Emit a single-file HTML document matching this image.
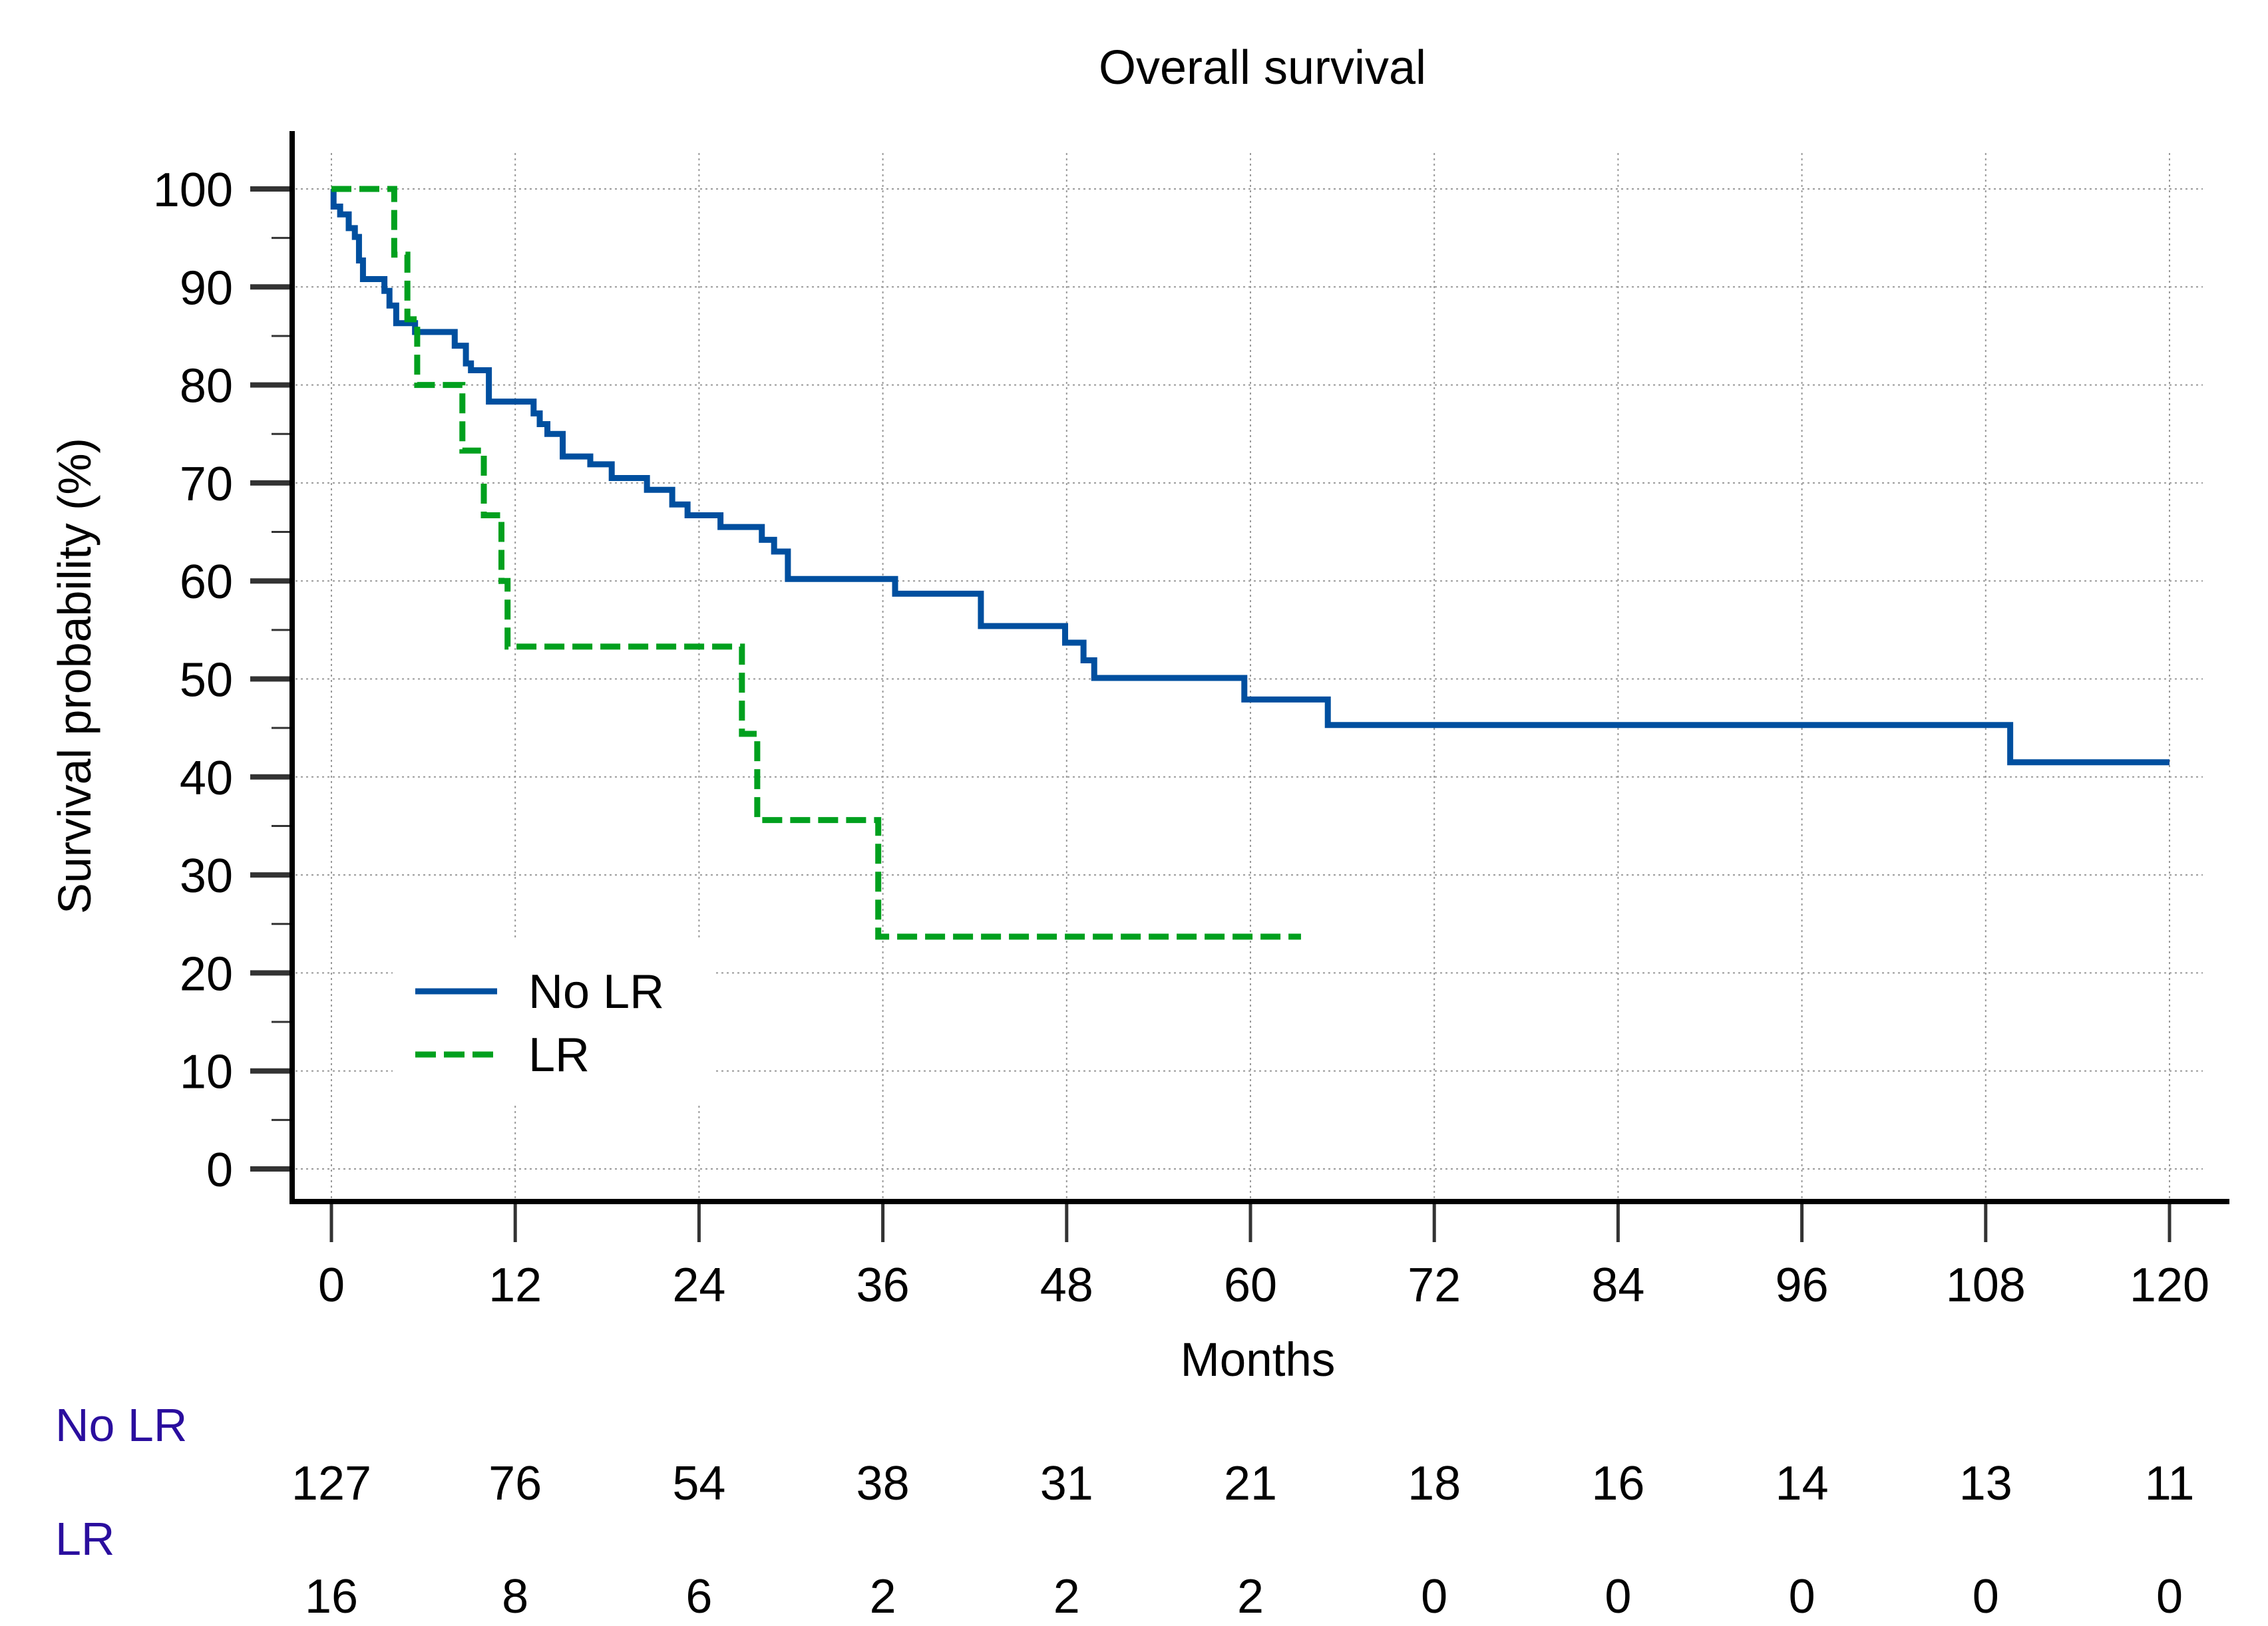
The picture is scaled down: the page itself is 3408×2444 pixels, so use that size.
<!DOCTYPE html>
<html><head><meta charset="utf-8"><style>
html,body{margin:0;padding:0;background:#fff;}
svg{display:block;font-family:"Liberation Sans",Arial,sans-serif;}
</style></head><body>
<svg id="chart" width="3408" height="2444" viewBox="0 0 3408 2444" xmlns="http://www.w3.org/2000/svg">
<rect width="3408" height="2444" fill="#fff"/>
<g id="grid"></g>
<g id="series"></g>
<g id="axes"></g>
<text x="1897" y="126" font-size="72" text-anchor="middle">Overall survival</text>
<text transform="translate(136,1016) rotate(-90)" font-size="70" text-anchor="middle">Survival probability (%)</text>
<text x="1890" y="2068" font-size="71" text-anchor="middle">Months</text>
<g>
<rect x="590" y="1414" width="483" height="244" fill="#fff"/>
<line x1="624" y1="1490" x2="747" y2="1490" stroke="#004f9f" stroke-width="9"/>
<text x="794" y="1505" font-size="72" dy="10">No LR</text>
<line x1="624" y1="1585" x2="747" y2="1585" stroke="#00a01e" stroke-width="9" stroke-dasharray="31,12"/>
<text x="794" y="1600" font-size="72" dy="10">LR</text>
</g>
<text x="83" y="2166" font-size="70" fill="#2a0e9e">No LR</text>
<text x="83" y="2337" font-size="70" fill="#2a0e9e">LR</text>
<g id="risk"></g>
</svg>
<script>
const xTicks=[0,12,24,36,48,60,72,84,96,108,120];
const yTicks=[0,10,20,30,40,50,60,70,80,90,100];
const riskNoLR=[127,76,54,38,31,21,18,16,14,13,11];
const riskLR=[16,8,6,2,2,2,0,0,0,0,0];
const noLRDropTimes=[0.14,0.57,1.13,1.53,1.8,2.06,3.46,3.79,4.23,5.46,8.05,8.78,9.11,10.28,13.2,13.6,14.1,15.1,16.9,18.3,20.6,22.25,23.25,25.4,28.1,28.9,29.8,36.8,42.4,47.9,49.1,49.8,59.6,65.05,109.6];
const noLRSurv=[98.2,97.4,96.0,95.1,92.7,90.8,89.6,88.1,86.3,85.4,84.0,82.2,81.5,78.3,77.1,76.0,75.0,72.7,71.9,70.5,69.3,67.8,66.7,65.5,64.2,63.0,60.2,58.7,55.4,53.7,51.9,50.1,47.9,45.3,41.5];
const noLREnd=120;
const lrDropTimes=[4.1,4.96,5.6,8.55,9.95,11.1,11.5,26.8,27.8,35.7];
const lrSurv=[93.3,86.7,80,73.3,66.7,60,53.3,44.4,35.6,23.7];
const lrEnd=63.3;
</script>
<script>
const NS='http://www.w3.org/2000/svg';
const X0=498,X1=3260,Y0=1757,Y1=284;
function xs(m){return X0+(X1-X0)*m/120;}
function ys(p){return Y0+(Y1-Y0)*p/100;}
function mk(tag,attrs,parent){const e=document.createElementNS(NS,tag);for(const k in attrs)e.setAttribute(k,attrs[k]);parent.appendChild(e);return e;}
const grid=document.getElementById('grid'),axes=document.getElementById('axes'),series=document.getElementById('series'),risk=document.getElementById('risk');
xTicks.forEach(t=>{
  const g=mk('line',{x1:xs(t),x2:xs(t),y1:230,y2:1803,stroke:'#999','stroke-width':2,'stroke-dasharray':'3,5'},grid);
  
  
  const tk=mk('line',{x1:xs(t),x2:xs(t),y1:1806,y2:1867,stroke:'#333','stroke-width':5},axes);
  
  
  const lb=mk('text',{x:xs(t),y:1956,'font-size':72,'text-anchor':'middle'},axes);lb.textContent=t;
  
  
});
yTicks.forEach(t=>{
  const g=mk('line',{x1:444,x2:3310,y1:ys(t),y2:ys(t),stroke:'#999','stroke-width':2,'stroke-dasharray':'3,5'},grid);
  
  
  const tk=mk('line',{x1:376,x2:439,y1:ys(t),y2:ys(t),stroke:'#333','stroke-width':8},axes);
  
  
  if(t<100){const mn=mk('line',{x1:408,x2:439,y1:ys(t+5),y2:ys(t+5),stroke:'#333','stroke-width':3},axes);
  
  }
  const lb=mk('text',{x:350,y:ys(t)+26,'font-size':72,'text-anchor':'end'},axes);lb.textContent=t;
  
  
});
const ya=mk('line',{x1:439,x2:439,y1:197,y2:1810,stroke:'#000','stroke-width':8},axes);


const xa=mk('line',{x1:435,x2:3350,y1:1806,y2:1806,stroke:'#000','stroke-width':8},axes);


function stepPath(drops,vals,end){let d='M'+xs(0)+','+ys(100);for(let i=0;i<drops.length;i++){d+=' H'+xs(drops[i])+' V'+ys(vals[i]);}d+=' H'+xs(end);return d;}
const p1=mk('path',{d:stepPath(noLRDropTimes,noLRSurv,noLREnd),fill:'none',stroke:'#004f9f','stroke-width':9},series);


const p2=mk('path',{d:stepPath(lrDropTimes,lrSurv,lrEnd),fill:'none',stroke:'#00a01e','stroke-width':9,'stroke-dasharray':'30,12'},series);


xTicks.forEach((t,i)=>{
  const a=mk('text',{x:xs(t),y:2254,'font-size':72,'text-anchor':'middle'},risk);a.textContent=riskNoLR[i];
  
  
  const b=mk('text',{x:xs(t),y:2424,'font-size':72,'text-anchor':'middle'},risk);b.textContent=riskLR[i];
  
  
});
</script>
</body></html>
